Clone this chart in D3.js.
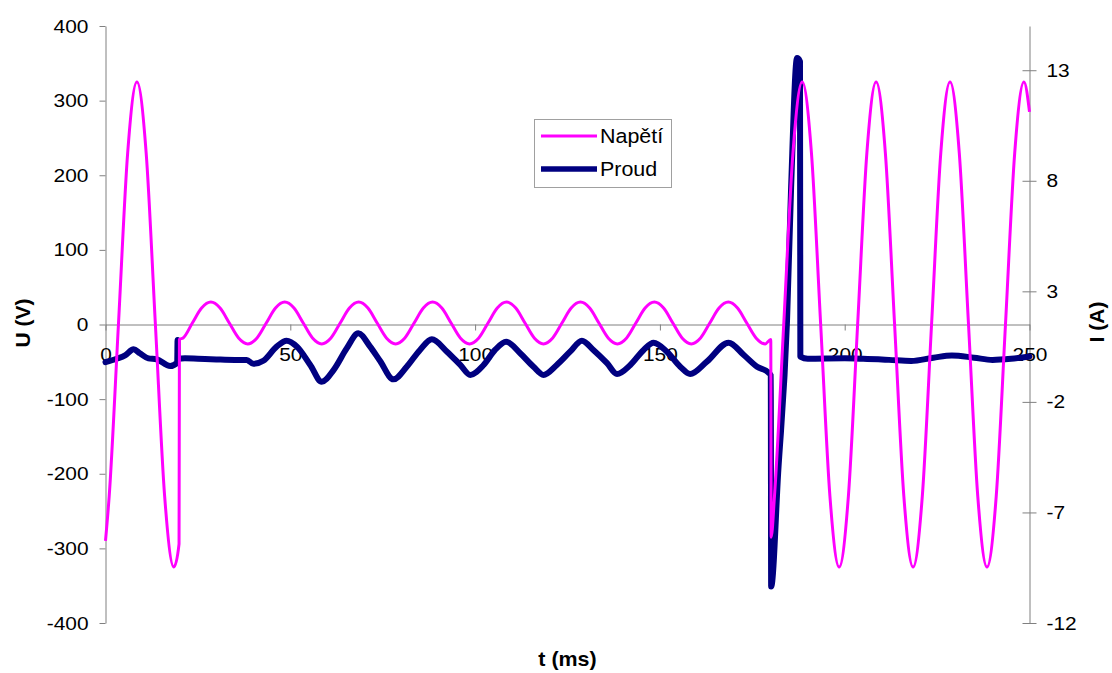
<!DOCTYPE html>
<html><head><meta charset="utf-8">
<script src="https://cdn.jsdelivr.net/npm/d3@7"></script>
<style>
body{margin:0;background:#fff}
svg{display:block;background:#fff}
text{font-family:Arial,"Liberation Sans",sans-serif;fill:#000}
</style>
</head><body>
<svg id="c" width="1112" height="673"></svg>
<script>
// ---------- data ----------
const voltT = [0,1,3.5,6,8.5,11,13.5,16,18.5,19.9,
  20,
  21,23.5,26,28.5,31,33.5,36,38.5,
  41,43.5,46,48.5,51,53.5,56,58.5,
  61,63.5,66,68.5,71,73.5,76,78.5,
  81,83.5,86,88.5,91,93.5,96,98.5,
  101,103.5,106,108.5,111,113.5,116,118.5,
  121,123.5,126,128.5,131,133.5,136,138.5,
  141,143.5,146,148.5,151,153.5,156,158.5,
  161,163.5,166,168.5,171,173.5,176,178.5,
  180,
  180.1,
  181,183.5,186,188.5,191,193.5,196,198.5,
  201,203.5,206,208.5,211,213.5,216,218.5,
  221,223.5,226,228.5,231,233.5,236,238.5,
  241,243.5,246,248.5,
  250];
const voltU = [-290,-230,0,230,325,230,0,-230,-325,-294,
  -20,
  -18,2,22,30,22,2,-18,-26,
  -18,2,22,30,22,2,-18,-26,
  -18,2,22,30,22,2,-18,-26,
  -18,2,22,30,22,2,-18,-26,
  -18,2,22,30,22,2,-18,-26,
  -18,2,22,30,22,2,-18,-26,
  -18,2,22,30,22,2,-18,-26,
  -18,2,22,30,22,2,-18,-26,
  -20,
  -285,
  -230,0,230,325,230,0,-230,-325,
  -230,0,230,325,230,0,-230,-325,
  -230,0,230,325,230,0,-230,-325,
  -230,0,230,325,
  285];

const curT = [0,3,5.3,7.6,9.3,11.6,13.8,17.5,19.4,19.5,
  19.6,21.5,25,30,35,38.2,40,42.7,46.3,49,
  51.8,55.4,58.5,61.7,65.3,68.4,71.6,74.3,77.9,81.5,
  85.1,88.3,92.4,96,98.7,102.3,105.4,108.4,112.2,115.8,
  118.5,122.1,125.7,128.9,132,135.7,138.4,142,145.6,148.3,
  151.9,155.5,158.2,162.7,168.6,172.7,176.3,179.4,180,180.1,
  182,184.4,185.5,187.1,187.9,188,190,200,205,212,
  218,224,229,235,240,245,250];
const curI = [-0.2,-0.05,0.1,0.38,0.2,-0.03,-0.07,-0.38,-0.23,0.8,
  -0.05,-0.03,-0.05,-0.08,-0.1,-0.1,-0.28,-0.14,0.5,0.77,
  0.5,-0.33,-1.09,-0.56,0.43,1.1,0.5,-0.15,-0.98,-0.41,
  0.35,0.83,0.27,-0.33,-0.78,-0.33,0.35,0.72,0.2,-0.41,
  -0.78,-0.33,0.27,0.77,0.35,-0.25,-0.74,-0.33,0.35,0.68,
  0.27,-0.41,-0.74,-0.18,0.68,0.12,-0.41,-0.68,-0.8,-10.35,
  -5.2,1.7,7.7,13.55,13.4,0.05,-0.05,-0.03,-0.05,-0.1,
  -0.15,0,0.1,0,-0.1,-0.05,0.05];

const xTicks = [0,50,100,150,200,250];
const uTicks = [-400,-300,-200,-100,0,100,200,300,400];
const iTicks = [-12,-7,-2,3,8,13];
const seriesNames = ["Napětí","Proud"];
const seriesColors = ["#ff00ff","#000080"];
const xTitle = "t (ms)", uTitle = "U (V)", iTitle = "I (A)";

if (voltT.length !== voltU.length || curT.length !== curI.length) console.error("length mismatch");

// ---------- chart ----------
const svg = d3.select("#c");
const x  = d3.scaleLinear([0,250],[105.5,1029.5]);
const yU = d3.scaleLinear([-400,400],[623,26]);
const yI = d3.scaleLinear([-12,15],[623,26]);
const SX = 1.1;            // reference text is slightly stretched horizontally
const AX = "#808080";

function stretch(sel){
  sel.each(function(){
    const t = d3.select(this);
    const xx = +t.attr("x") || 0, yy = +t.attr("y") || 0;
    t.attr("x",0).attr("y",0).attr("transform",`translate(${xx},${yy}) scale(${SX},1)`);
  });
}
function styleAxis(g){
  g.select(".domain").attr("stroke",AX);
  g.selectAll(".tick line").attr("stroke",AX);
  g.selectAll(".tick text").attr("font-size",19).attr("font-family",'Arial,"Liberation Sans",sans-serif').attr("fill","#000");
  g.attr("font-size",null).attr("font-family",null);
}

// left axis (U)
const gL = svg.append("g").attr("transform",`translate(${x(0)},0)`)
  .call(d3.axisLeft(yU).tickValues(uTicks).tickSize(6).tickSizeOuter(0).tickPadding(11).tickFormat(d=>String(d)));
styleAxis(gL); stretch(gL.selectAll(".tick text"));

// right axis (I)
const gR = svg.append("g").attr("transform",`translate(${x(250)},0)`)
  .call(d3.axisRight(yI).tickValues(iTicks).tickSize(7).tickSizeOuter(0).tickPadding(10).tickFormat(d=>String(d)));
styleAxis(gR); gR.selectAll(".tick line").attr("x1",-7);
stretch(gR.selectAll(".tick text"));

// x axis at U = 0
const gX = svg.append("g").attr("transform",`translate(0,${yU(0)})`)
  .call(d3.axisBottom(x).tickValues(xTicks).tickSize(6).tickSizeOuter(0).tickPadding(17).tickFormat(d=>String(d)));
styleAxis(gX); stretch(gX.selectAll(".tick text"));

// axis titles
svg.append("text").attr("transform",`translate(567.5,666) scale(${SX},1)`).attr("text-anchor","middle")
  .attr("font-size",19.5).attr("font-weight","bold").text(xTitle);
svg.append("text").attr("transform",`translate(29.5,323) rotate(-90)`).attr("text-anchor","middle")
  .attr("font-size",21).attr("font-weight","bold").text(uTitle);
svg.append("text").attr("transform",`translate(1104,322) rotate(-90)`).attr("text-anchor","middle")
  .attr("font-size",21).attr("font-weight","bold").text(iTitle);

// series
const lineI = d3.line().x((d,i)=>x(curT[i])).y(d=>yI(d)).curve(d3.curveMonotoneX);
const lineU = d3.line().x((d,i)=>x(voltT[i])).y(d=>yU(d)).curve(d3.curveMonotoneX);

svg.append("path").datum(curI).attr("d",lineI).attr("fill","none")
  .attr("stroke",seriesColors[1]).attr("stroke-width",6).attr("stroke-linejoin","round").attr("stroke-linecap","round");
svg.append("path").datum(voltU).attr("d",lineU).attr("fill","none")
  .attr("stroke",seriesColors[0]).attr("stroke-width",3).attr("stroke-linejoin","round");

// legend
const lg = svg.append("g");
lg.append("rect").attr("x",534.5).attr("y",119.5).attr("width",137).attr("height",68)
  .attr("fill","#fff").attr("stroke","#a0a0a0").attr("stroke-width",1);
const legY = [136,169], legW = [3,5.5];
seriesNames.forEach((n,i)=>{
  lg.append("line").attr("x1",541).attr("x2",597).attr("y1",legY[i]).attr("y2",legY[i])
    .attr("stroke",seriesColors[i]).attr("stroke-width",legW[i]);
  lg.append("text").attr("transform",`translate(600,${legY[i]+7}) scale(${SX},1)`)
    .attr("font-size",19.5).text(n);
});
</script>
</body></html>
